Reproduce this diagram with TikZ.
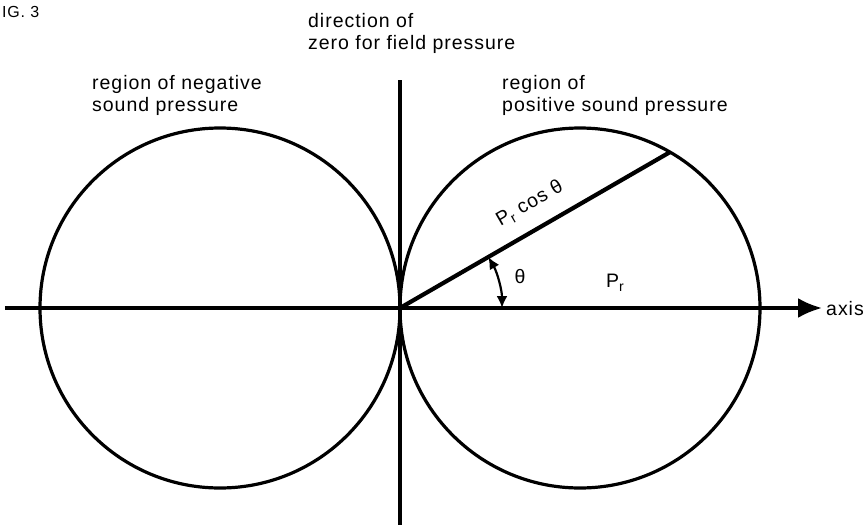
\documentclass[tikz,border=0pt]{standalone}
\usepackage{fontspec}
\setmainfont{Liberation Sans}
\newfontfamily\labelfont[LetterSpace=5]{Liberation Sans}
\usetikzlibrary{arrows.meta,positioning,calc}
\newcommand\subr{\raisebox{-0.4ex}{\fontsize{14}{14}\selectfont r}}
\tikzset{
  >=Latex,
  lobe/.style={line width=3.2pt,draw=black},
  axisline/.style={line width=3.2pt},
  radline/.style={line width=4.2pt},
  anglearr/.style={<->,line width=2.2pt,>={Latex[length=12pt,width=11pt]}},
  lab/.style={font=\fontsize{19.5}{22}\selectfont\labelfont,inner sep=0pt,align=left},
  figlab/.style={font=\fontsize{16}{18}\selectfont\labelfont,inner sep=0pt}
}
\begin{document}
\begin{tikzpicture}[x=1pt,y=1pt]
  \useasboundingbox (-400,-220) rectangle (466,308);
  % the two lobes of the figure-of-eight
  \coordinate (o) at (0,0);
  \coordinate (cl) at (-180,0); \coordinate (cr) at (180,0);
  \draw[lobe] (cl) circle[radius=180];
  \draw[lobe] (cr) circle[radius=180];
  % axis and null direction
  \coordinate (axl) at (-395,0); \coordinate (axr) at (422,0);
  \draw[axisline,-{Latex[length=24pt,width=20pt]}] (axl)--(axr);
  \node[lab,anchor=base west] (axis) at (426,-7) {axis};
  \coordinate (vt) at (0,228); \coordinate (vb) at (0,-217);
  \draw[axisline] (vt)--(vb);
  % radius vector and angle
  \coordinate (rp) at (30:311.8);
  \draw[radline] (o)--(rp);
  \coordinate (a0) at (0:102);
  \draw[anglearr] (a0) arc[start angle=0,end angle=30,radius=102];
  \node[lab] (th) at (120,31) {θ};
  \node[lab] (pr) at (215,25) {P\subr};
  \node[lab,rotate=30] (prc) at (130,104) {P\subr{} cos θ};
  % captions
  \node[figlab,anchor=base west] (fig) at (-398,290) {IG. 3};
  \node[lab,anchor=north west] (dir) at (-92,295) {direction of\\zero for field pressure};
  \node[lab,anchor=north west] (neg) at (-308,233) {region of negative\\sound pressure};
  \node[lab,anchor=north west] (pos) at (102,233) {region of\\positive sound pressure};
\end{tikzpicture}
\end{document}
